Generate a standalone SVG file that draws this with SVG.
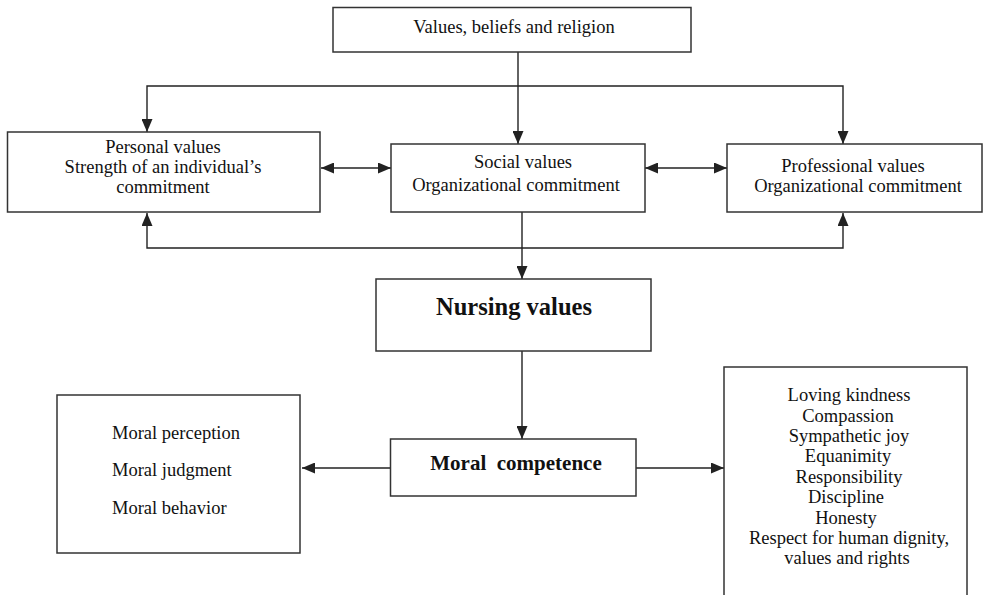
<svg xmlns="http://www.w3.org/2000/svg" width="985" height="595" viewBox="0 0 985 595">
<style>
.box{fill:#fff;stroke:#333;stroke-width:1.5}
.t{font-family:"Liberation Serif","Times New Roman",serif;font-size:18.5px;fill:#111;text-anchor:middle}
.tl{text-anchor:start}
.b{font-weight:bold}
.c{fill:none;stroke:#222;stroke-width:1.4}
</style>
<defs>
<marker id="ah" viewBox="0 0 13 11" refX="13" refY="5.5" markerWidth="13" markerHeight="11" markerUnits="userSpaceOnUse" orient="auto-start-reverse">
<path d="M0,0 L13,5.5 L0,11 z" fill="#222"/>
</marker>
</defs>
<rect width="985" height="595" fill="#fff"/>
<g id="connectors">
<path class="c" d="M518,52 V144" marker-end="url(#ah)"/>
<path class="c" d="M147,132 V86 H843 V144" marker-start="url(#ah)" marker-end="url(#ah)"/>
<path class="c" d="M147,213 V248 H843 V213" marker-start="url(#ah)" marker-end="url(#ah)"/>
<path class="c" d="M321,168 H391" marker-start="url(#ah)" marker-end="url(#ah)"/>
<path class="c" d="M645,168 H727" marker-start="url(#ah)" marker-end="url(#ah)"/>
<path class="c" d="M522,212 V279" marker-end="url(#ah)"/>
<path class="c" d="M522,351 V439" marker-end="url(#ah)"/>
<path class="c" d="M390,468 H302" marker-end="url(#ah)"/>
<path class="c" d="M636,468 H724" marker-end="url(#ah)"/>
</g>
<g id="values-beliefs">
<rect class="box" x="333" y="7.5" width="358" height="44.5"/>
<text class="t" x="514" y="33">Values, beliefs and religion</text>
</g>
<g id="personal-values">
<rect class="box" x="7.5" y="132" width="312.5" height="80"/>
<text class="t" x="163" y="153">Personal values</text>
<text class="t" x="163" y="173">Strength of an individual’s</text>
<text class="t" x="163" y="193">commitment</text>
</g>
<g id="social-values">
<rect class="box" x="391" y="144" width="254" height="68"/>
<text class="t" x="523" y="168">Social values</text>
<text class="t" x="516" y="191">Organizational commitment</text>
</g>
<g id="professional-values">
<rect class="box" x="727" y="144" width="255" height="68"/>
<text class="t" x="853" y="172">Professional values</text>
<text class="t" x="858" y="192">Organizational commitment</text>
</g>
<g id="nursing-values">
<rect class="box" x="376" y="279" width="275" height="72"/>
<text class="t b" x="514" y="315" style="font-size:24.5px">Nursing values</text>
</g>
<g id="moral-competence">
<rect class="box" x="390.5" y="439" width="245.5" height="57"/>
<text class="t b" x="516" y="470" style="font-size:21px">Moral&#160; competence</text>
</g>
<g id="moral-components">
<rect class="box" x="57" y="395" width="243" height="158"/>
<text class="t tl" x="112" y="439">Moral perception</text>
<text class="t tl" x="112" y="476">Moral judgment</text>
<text class="t tl" x="112" y="514">Moral behavior</text>
</g>
<g id="virtues">
<rect class="box" x="724" y="367" width="243" height="240"/>
<text class="t" x="849" y="401">Loving kindness</text>
<text class="t" x="848" y="422">Compassion</text>
<text class="t" x="849" y="442">Sympathetic joy</text>
<text class="t" x="848" y="462">Equanimity</text>
<text class="t" x="849" y="483">Responsibility</text>
<text class="t" x="846" y="503">Discipline</text>
<text class="t" x="846" y="524">Honesty</text>
<text class="t" x="849" y="544">Respect for human dignity,</text>
<text class="t" x="847" y="564">values and rights</text>
</g>
</svg>
